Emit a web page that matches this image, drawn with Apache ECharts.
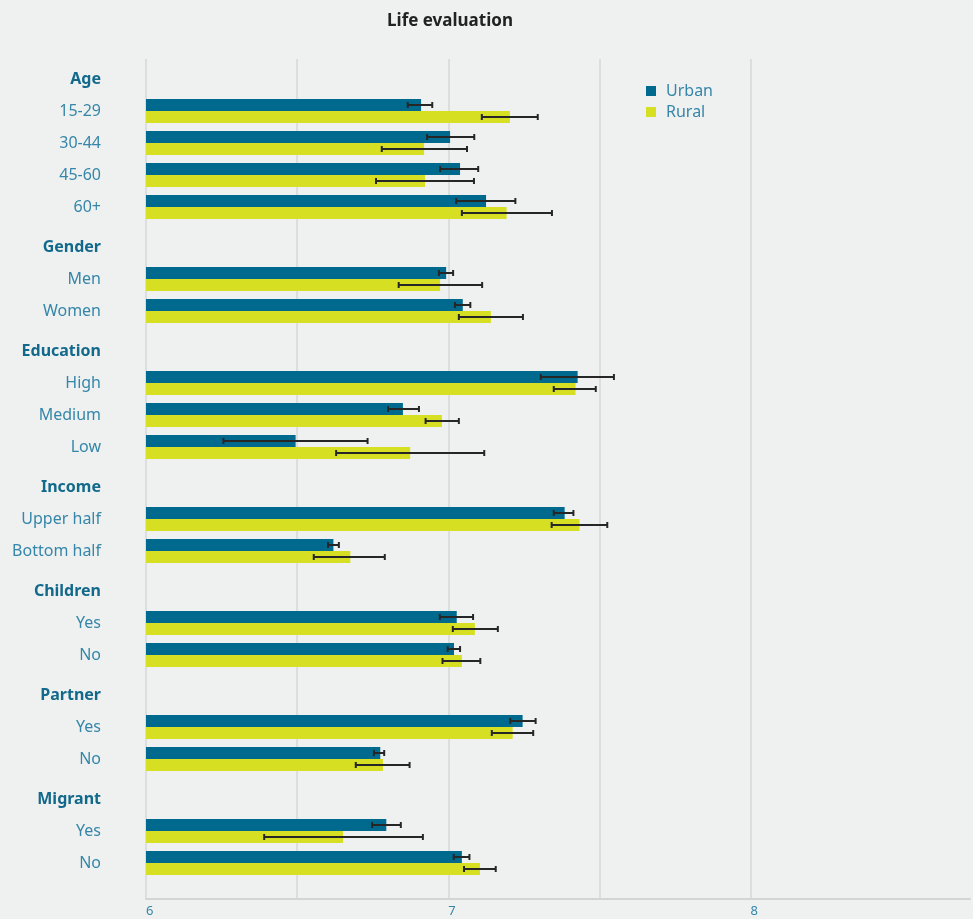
<!DOCTYPE html>
<html>
<head>
<meta charset="utf-8">
<script src="https://cdn.jsdelivr.net/npm/echarts@6/dist/echarts.min.js"></script>
<style>
  html, body { margin: 0; padding: 0; background: #eff1f0; }
  #chart { width: 973px; height: 919px; }
</style>
</head>
<body>
<div id="chart"></div>
<script>
// ---- Data ----
var groups = ['Age', 'Gender', 'Education', 'Income', 'Children', 'Partner', 'Migrant'];
var groupItems = [
  ['15-29', '30-44', '45-60', '60+'],
  ['Men', 'Women'],
  ['High', 'Medium', 'Low'],
  ['Upper half', 'Bottom half'],
  ['Yes', 'No'],
  ['Yes', 'No'],
  ['Yes', 'No']
];
var seriesNames = ['Urban', 'Rural'];
var urbanValues = [6.910, 7.006, 7.039, 7.125, 6.993, 7.048, 7.428, 6.850, 6.495, 7.385, 6.620, 7.028, 7.019, 7.246, 6.775, 6.795, 7.045];
var urbanLow    = [6.866, 6.930, 6.973, 7.026, 6.969, 7.022, 7.306, 6.801, 6.256, 7.349, 6.602, 6.972, 6.998, 7.205, 6.754, 6.748, 7.018];
var urbanHigh   = [6.947, 7.086, 7.099, 7.222, 7.016, 7.073, 7.548, 6.903, 6.733, 7.414, 6.638, 7.082, 7.039, 7.289, 6.788, 6.843, 7.070];
var ruralValues = [7.204, 6.920, 6.923, 7.193, 6.973, 7.141, 7.421, 6.979, 6.874, 7.434, 6.676, 7.088, 7.045, 7.213, 6.784, 6.652, 7.105];
var ruralLow    = [7.111, 6.780, 6.761, 7.045, 6.836, 7.035, 7.349, 6.925, 6.629, 7.342, 6.555, 7.015, 6.981, 7.144, 6.694, 6.391, 7.052];
var ruralHigh   = [7.296, 7.062, 7.085, 7.343, 7.112, 7.247, 7.488, 7.035, 7.119, 7.526, 6.790, 7.164, 7.106, 7.281, 6.872, 6.916, 7.157];
var xTickLabels = [6, 7, 8];

// ---- Slot layout on the category axis (8px bands) ----
var slots = [];
function blank(n) { for (var k = 0; k < n; k++) slots.push({ label: '', header: false, item: -1 }); }
var itemCounter = 0;
blank(2);
groups.forEach(function (g, gi) {
  slots.push({ label: g, header: true, item: -1 });
  groupItems[gi].forEach(function (it) {
    blank(3);
    slots.push({ label: it, header: false, item: itemCounter++ });
  });
  blank(4);
});
var slotIds = slots.map(function (s, i) { return 's' + i; });

var urbanBar = [], ruralBar = [], urbanErr = [], ruralErr = [];
slots.forEach(function (s, i) {
  if (s.item >= 0) {
    urbanBar.push(urbanValues[s.item]);
    ruralBar.push(ruralValues[s.item]);
    urbanErr.push([i, urbanLow[s.item], urbanHigh[s.item]]);
    ruralErr.push([i, ruralLow[s.item], ruralHigh[s.item]]);
  } else {
    urbanBar.push('-');
    ruralBar.push('-');
  }
});

var BAR_W = 12;
function errRender(offset) {
  return function (params, api) {
    var idx = api.value(0);
    var p1 = api.coord([api.value(1), idx]);
    var p2 = api.coord([api.value(2), idx]);
    var y = p1[1] + offset;
    var style = { stroke: '#262626', lineWidth: 2 };
    return {
      type: 'group',
      children: [
        { type: 'line', shape: { x1: p1[0], y1: y, x2: p2[0], y2: y }, style: style },
        { type: 'line', shape: { x1: p1[0], y1: y - 3, x2: p1[0], y2: y + 3 }, style: style },
        { type: 'line', shape: { x1: p2[0], y1: y - 3, x2: p2[0], y2: y + 3 }, style: style }
      ]
    };
  };
}

var FONT = '"Noto Sans", "Open Sans", sans-serif';
var grid = '#dcdedd';
var chart = echarts.init(document.getElementById('chart'), null, { renderer: 'canvas' });
chart.setOption({
  backgroundColor: '#eff1f0',
  animation: false,
  title: {
    text: 'Life evaluation',
    left: 450, top: 13, padding: 0, textAlign: 'center',
    textStyle: { fontFamily: FONT, fontSize: 17, fontWeight: 'bold', color: '#222222' }
  },
  legend: {
    data: seriesNames,
    orient: 'vertical',
    left: 646, top: 83,
    icon: 'rect', itemWidth: 10, itemHeight: 10, itemGap: 5,
    padding: 0,
    textStyle: { fontFamily: FONT, fontSize: 16, color: '#3586a9', padding: [0, 0, 0, 5] }
  },
  grid: { left: 146, right: 0, top: 59, bottom: 20, containLabel: false },
  xAxis: {
    type: 'value', min: 6, max: 8.726, interval: 0.5,
    axisLine: { show: true, lineStyle: { color: '#d3d5d4', width: 2 } },
    axisTick: { show: false },
    axisLabel: {
      fontFamily: FONT, fontSize: 13, color: '#3586a9', margin: 6, align: 'left',
      formatter: function (v) { return xTickLabels.indexOf(v) >= 0 ? String(v) : ''; }
    },
    splitLine: { show: true, lineStyle: { color: [grid, grid, grid, grid, grid, 'rgba(0,0,0,0)', 'rgba(0,0,0,0)'], width: 2 } }
  },
  yAxis: {
    type: 'category', inverse: true, data: slotIds,
    axisLine: { show: false }, axisTick: { show: false }, splitLine: { show: false },
    axisLabel: {
      interval: 0, margin: 45, align: 'right',
      formatter: function (v, i) {
        var s = slots[i];
        if (!s || !s.label) return '';
        return s.header ? '{h|' + s.label + '}' : '{i|' + s.label + '}';
      },
      rich: {
        h: { fontFamily: FONT, fontSize: 16, fontWeight: 'bold', color: '#13698b' },
        i: { fontFamily: FONT, fontSize: 16, color: '#3586a9' }
      }
    }
  },
  series: [
    { name: 'Urban', type: 'bar', data: urbanBar, barWidth: BAR_W, barGap: '0%', itemStyle: { color: '#006a8e' } },
    { name: 'Rural', type: 'bar', data: ruralBar, barWidth: BAR_W, barGap: '0%', itemStyle: { color: '#d7df23' } },
    { name: 'UrbanErr', type: 'custom', data: urbanErr, encode: { x: [1, 2], y: 0 }, renderItem: errRender(-BAR_W / 2), z: 5 },
    { name: 'RuralErr', type: 'custom', data: ruralErr, encode: { x: [1, 2], y: 0 }, renderItem: errRender(BAR_W / 2), z: 5 }
  ]
});
</script>
</body>
</html>
